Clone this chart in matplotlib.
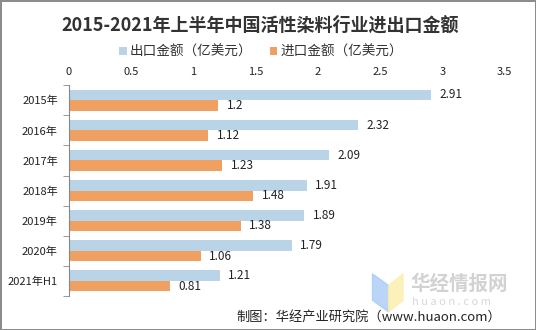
import matplotlib
matplotlib.use("Agg")
import matplotlib.pyplot as plt
from matplotlib.patches import Polygon
import numpy as np

plt.rcParams['font.family'] = ['Noto Sans CJK SC', 'DejaVu Sans']

years = ['2015年', '2016年', '2017年', '2018年', '2019年', '2020年', '2021年H1']
export_vals = [2.91, 2.32, 2.09, 1.91, 1.89, 1.79, 1.21]
import_vals = [1.2, 1.12, 1.23, 1.48, 1.38, 1.06, 0.81]
x_ticks = [0, 0.5, 1, 1.5, 2, 2.5, 3, 3.5]
x_tick_labels = ['0', '0.5', '1', '1.5', '2', '2.5', '3', '3.5']

blue = '#b8d4e6'
orange = '#f0a060'

fig = plt.figure(figsize=(5.36, 3.3), dpi=100, edgecolor='#8c8c8c', linewidth=2)
ax = fig.add_axes([0.1287, 0.103, 0.813, 0.639])

y = np.arange(len(years))
h = 0.35
b1 = ax.barh(y - h / 2, export_vals, height=h, color=blue, label='出口金额（亿美元）')
b2 = ax.barh(y + h / 2, import_vals, height=h, color=orange, label='进口金额（亿美元）')

# value labels
for i in range(len(years)):
    ax.annotate(f'{export_vals[i]:g}', (export_vals[i], y[i] - h / 2), xytext=(6, 0),
                textcoords='offset points', va='center', ha='left', fontsize=8.5, color='#222222')
    ax.annotate(f'{import_vals[i]:g}', (import_vals[i], y[i] + h / 2), xytext=(6, 0),
                textcoords='offset points', va='center', ha='left', fontsize=8.5, color='#222222')

ax.set_xlim(0, 3.5)
ax.set_ylim(len(years) - 0.5, -0.5)
ax.xaxis.tick_top()
ax.set_xticks(x_ticks)
ax.set_xticklabels(x_tick_labels, fontsize=8, color='#222222')
ax.tick_params(axis='x', length=0, pad=6)

ax.set_yticks(y)
ax.set_yticklabels(years, fontsize=8, color='#222222')
ax.set_yticks(np.arange(-0.5, len(years)), minor=True)
ax.tick_params(axis='y', which='major', length=0, pad=8)
ax.tick_params(axis='y', which='minor', length=4, color='#888888', direction='out')

for s in ['top', 'right', 'bottom']:
    ax.spines[s].set_visible(False)
ax.spines['left'].set_color('#888888')

fig.text(0.485, 0.925, '2015-2021年上半年中国活性染料行业进出口金额', ha='center', va='center',
         fontsize=13, fontweight='bold', color='#333333')

fig.legend(handles=[b1, b2], loc='center', bbox_to_anchor=(0.487, 0.842), ncol=2, frameon=False,
           fontsize=9.8, handlelength=0.55, handleheight=0.55, handletextpad=0.2, columnspacing=1.3,
           labelcolor='#333333')

# watermark logo
fig.patches.append(Polygon([[0.695, 0.17], [0.725, 0.135], [0.725, 0.055], [0.695, 0.09]],
                           closed=True, transform=fig.transFigure, color='#a9cbf5', alpha=0.8, zorder=0))
fig.patches.append(Polygon([[0.725, 0.135], [0.752, 0.17], [0.752, 0.09], [0.725, 0.055]],
                           closed=True, transform=fig.transFigure, color='#fdeeaa', alpha=0.8, zorder=0))
fig.text(0.765, 0.138, '华经情报网', fontsize=14, fontweight='bold', color='#d2d2d2', ha='left', va='center')
fig.text(0.768, 0.086, 'h u a o n . c o m', fontsize=8, color='#d8d8d8', ha='left', va='center')

fig.text(0.935, 0.04, '制图：华经产业研究院（www.huaon.com）', fontsize=9.5, color='#222222',
         ha='right', va='center')

fig.savefig('out.png', dpi=100, edgecolor=fig.get_edgecolor())
